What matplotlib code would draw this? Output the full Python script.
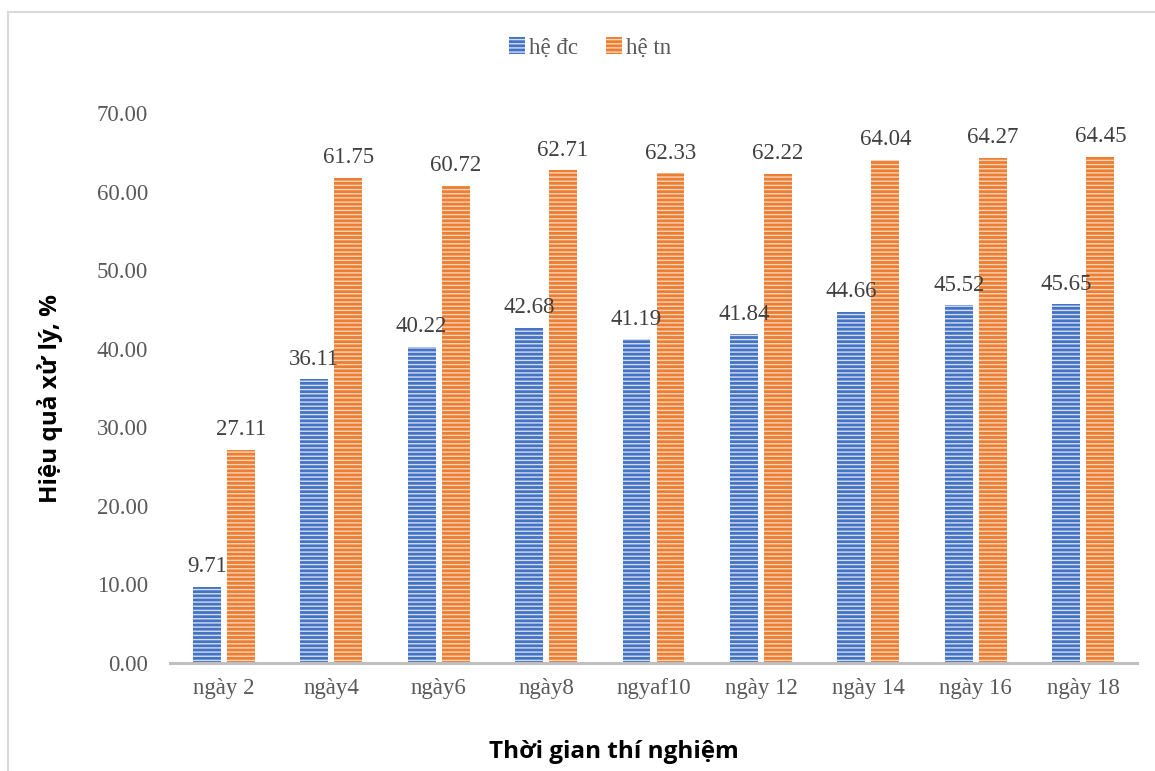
import matplotlib
matplotlib.use("Agg")
import matplotlib.pyplot as plt
from matplotlib.patches import Rectangle
from matplotlib.ticker import FuncFormatter
import numpy as np

categories = ["ngày 2", "ngày4", "ngày6", "ngày8", "ngyaf10", "ngày 12", "ngày 14", "ngày 16", "ngày 18"]
he_dc = [9.71, 36.11, 40.22, 42.68, 41.19, 41.84, 44.66, 45.52, 45.65]
he_tn = [27.11, 61.75, 60.72, 62.71, 62.33, 62.22, 64.04, 64.27, 64.45]
series_names = ["hệ đc", "hệ tn"]
y_ticks = [0, 10, 20, 30, 40, 50, 60, 70]

serif = ["Liberation Serif", "DejaVu Serif"]
sans_bold = ["Open Sans", "DejaVu Sans"]

fig = plt.figure(figsize=(11.55, 7.71), dpi=100)
ax = fig.add_axes([170 / 1155, 108 / 771, 967 / 1155, 550 / 771])

# light chart-area border
fig.patches.append(Rectangle((8 / 1155, -0.05), 1.1, 1.05 - 12 / 771,
                             transform=fig.transFigure, fill=False,
                             edgecolor="#d9d9d9", linewidth=1.5, zorder=0))

x = np.arange(len(categories))
w = 0.26
off = 0.158
b1 = ax.bar(x - off, he_dc, w, color="#4472C4", edgecolor="#d3def2",
            linewidth=0, hatch="----", label=series_names[0], zorder=2)
b2 = ax.bar(x + off, he_tn, w, color="#ED7D31", edgecolor="#f9d5bc",
            linewidth=0, hatch="----", label=series_names[1], zorder=2)

for bars, vals in ((b1, he_dc), (b2, he_tn)):
    for rect, v in zip(bars, vals):
        ax.annotate(f"{v:.2f}", (rect.get_x() + rect.get_width() / 2, v),
                    xytext=(0, 7), textcoords="offset points",
                    ha="center", va="bottom", fontsize=16.5,
                    family=serif, color="#404040", zorder=5)

ax.set_xlim(-0.5, len(categories) - 0.5)
ax.set_ylim(0, 70)
ax.set_yticks(y_ticks)
ax.yaxis.set_major_formatter(FuncFormatter(lambda v, p: f"{v:.2f}"))
ax.set_xticks(x)
ax.set_xticklabels(categories)

for lab in ax.get_xticklabels() + ax.get_yticklabels():
    lab.set_family(serif)
    lab.set_fontsize(16.5)
    lab.set_color("#595959")

ax.tick_params(axis="y", length=0, pad=16)
ax.tick_params(axis="x", length=0, pad=11)

for s in ("top", "right", "left"):
    ax.spines[s].set_visible(False)
ax.spines["bottom"].set_color("#bfbfbf")
ax.spines["bottom"].set_linewidth(2.2)
ax.spines["bottom"].set_zorder(3)

fig.text(50 / 1155, 1 - 398 / 771, "Hiệu quả xử lý, %", rotation=90,
         ha="center", va="center", fontsize=17.5, fontweight="bold",
         family=sans_bold, color="black")
fig.text(614 / 1155, 1 - 752 / 771, "Thời gian thí nghiệm",
         ha="center", va="center", fontsize=17.5, fontweight="bold",
         family=sans_bold, color="black")

leg = fig.legend(handles=[b1, b2], labels=series_names, loc="center",
                 bbox_to_anchor=(590 / 1155, 1 - 48 / 771), ncol=2,
                 frameon=False, prop={"family": serif, "size": 16.5},
                 handlelength=0.7, handleheight=0.7, handletextpad=0.2,
                 columnspacing=1.2, labelcolor="#595959")

fig.savefig("out.png", dpi=100)
